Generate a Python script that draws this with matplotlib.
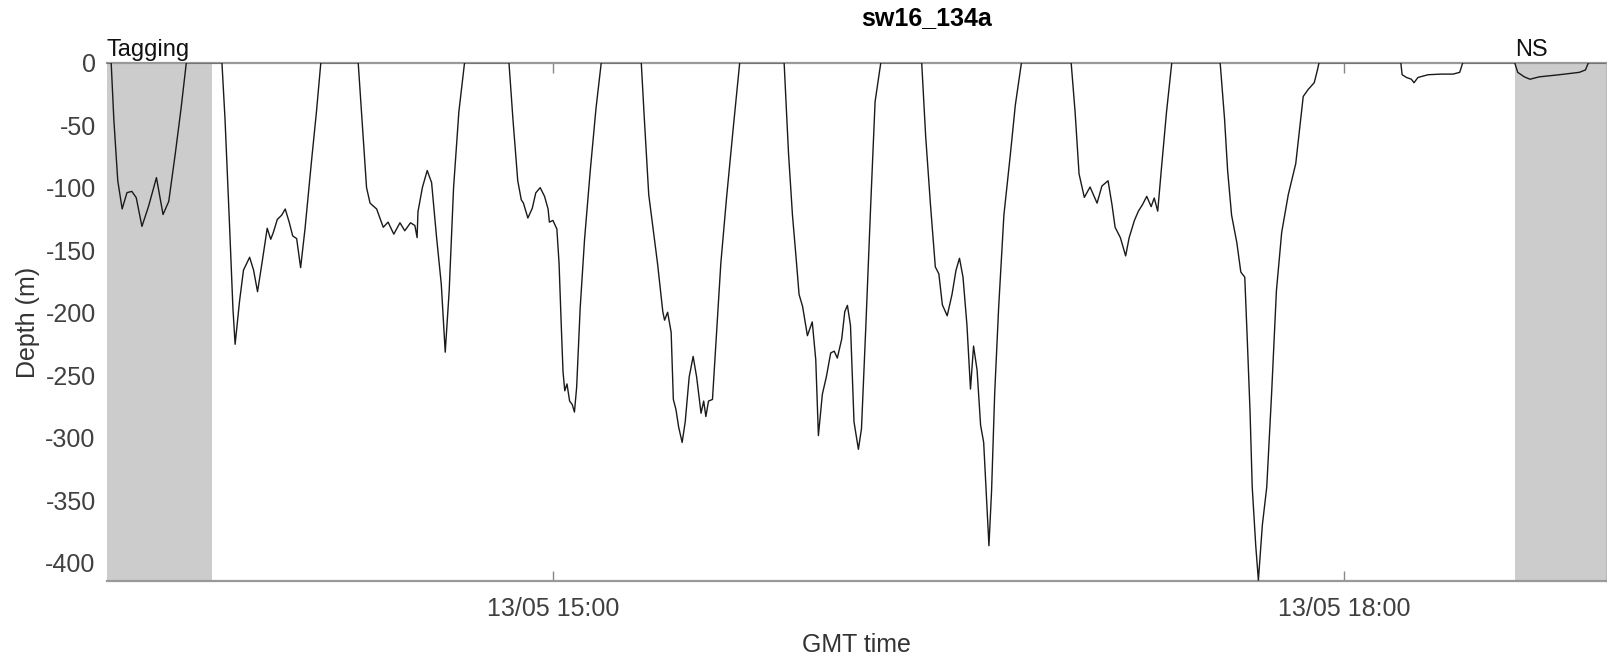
import numpy as np
import pandas as pd
import matplotlib
matplotlib.use("Agg")
import matplotlib.pyplot as plt
import matplotlib.dates as mdates

plt.rcParams["font.family"] = ["Liberation Sans", "DejaVu Sans"]
plt.rcParams["axes.unicode_minus"] = False

# dive profile of sw16_134a: minutes after 13:00 GMT, depth in metres
minutes = [
    18.5, 19.5, 20.1, 21.0, 22.0, 23.1, 24.2, 25.2, 26.5, 28.0, 29.8, 31.3, 32.6, 34.1, 35.4, 36.6,
    44.7, 45.4, 46.4, 47.2, 47.7, 48.7, 49.6, 51.0, 51.9, 52.8, 53.8, 55.0, 55.8, 56.4, 57.3, 58.3,
    59.1, 60.0, 60.8, 61.7, 62.6, 63.6, 65.1, 66.2, 67.2,
    75.7, 77.6, 78.4, 79.9, 81.4, 82.5, 83.8, 85.2, 86.3, 87.6, 88.6, 89.1, 89.3, 90.3, 91.4, 92.4,
    93.5, 94.6, 95.5, 96.4, 97.4, 98.6, 99.9,
    110.0, 110.9, 112.0, 112.8, 113.3, 114.3, 115.3, 116.1, 117.1, 118.1, 118.9, 119.2, 120.0, 120.9,
    121.4, 121.9, 122.3, 122.7, 123.2, 123.8, 124.4, 124.9, 125.4, 126.2, 127.2, 128.5, 129.8, 131.0,
    140.1, 140.8, 141.8, 142.9, 143.8, 145.0, 145.4, 146.1, 146.9, 147.4, 148.0, 148.6, 149.4, 150.1,
    151.0, 151.9, 152.7, 153.7, 154.3, 154.8, 155.4, 156.3, 157.1, 158.2, 159.5, 161.0, 162.5,
    172.6, 173.6, 174.5, 175.3, 176.0, 176.8, 177.9, 179.0, 179.8, 180.4, 181.3, 182.2, 183.2, 184.0,
    184.7, 185.7, 186.4, 187.0, 187.7, 188.5, 189.5, 190.2, 191.2, 192.3, 193.3, 194.6,
    203.9, 204.8, 205.9, 207.0, 207.8, 208.6, 209.7, 210.8, 211.7, 212.5, 213.3, 214.2, 215.0, 215.7,
    216.5, 217.3, 218.0, 218.6, 219.2, 219.8, 220.5, 221.4, 222.6, 224.1, 225.2, 226.6,
    237.9, 238.8, 239.7, 240.9, 242.2, 243.8, 244.9, 246.3, 247.2, 247.9, 249.1, 250.3, 251.1, 252.3,
    253.2, 254.1, 255.1, 256.1, 256.8, 257.6, 258.4, 259.6, 260.8,
    271.8, 272.8, 273.5, 274.4, 275.6, 276.5, 277.4, 278.0, 278.6, 279.1, 279.9, 280.5, 281.4, 282.4,
    283.5, 284.6, 285.8, 287.3, 289.0, 290.7, 291.8, 293.2, 293.9, 294.3,
    312.9, 313.2, 314.2, 315.3, 315.9, 316.8, 319.1, 322.1, 324.8, 326.3, 327.0,
    338.8, 339.5, 341.0, 342.3, 344.4, 349.0, 353.5, 354.9, 355.6, 359.6,
]
depth = [
    0, 0, -45, -94.5, -117, -104, -103, -108, -131, -115, -92, -121.5, -111, -72.5, -36.7, 0,
    0, -45, -127.6, -196.4, -225.3, -191, -166, -155.7, -166, -183.2, -160.6, -132.5, -141.3, -135.8,
    -125.4, -122, -117.1, -127.6, -138.6, -140.8, -164, -133, -78, -39.5, 0,
    0, -100, -112.4, -117.1, -131.7, -127.6, -137.2, -128.1, -134.5, -128.1, -130.3, -140, -119.3,
    -100, -86.3, -96, -138.6, -177.1, -231.6, -182.6, -100, -39.5, 0,
    0, -45, -94.5, -109.7, -112.4, -124.3, -116.6, -104.2, -100, -107, -117.1, -127.6, -126.2, -133.1,
    -160.6, -210.2, -247.3, -262.5, -257, -270.7, -273.5, -279.5, -259.7, -196.4, -141.3, -86.3, -36.7, 0,
    0, -45, -105.6, -135.8, -160.6, -199.2, -206, -199.7, -215.7, -269.4, -277.6, -291.4, -303.8,
    -287.3, -251.5, -235, -251.5, -280.4, -270.7, -283.1, -270.7, -269.4, -224, -160.6, -108.3, -53.2, 0,
    0, -72.5, -122, -155.1, -185.4, -195, -218.4, -207.4, -237.7, -298.3, -265.2, -251.5, -232.2,
    -230.8, -236.3, -221.2, -199.2, -194.2, -210.2, -287.3, -309.3, -292.8, -210.2, -113.8, -31.2, 0,
    0, -58.8, -113.8, -163.4, -168.9, -193.7, -202.5, -185.4, -166.1, -156.5, -171.6, -210.2, -261.1,
    -226.7, -246, -290, -303.8, -345, -386.4, -342.3, -265.2, -196.4, -122, -72.5, -34, 0,
    0, -39.5, -89, -107.8, -99.5, -112.4, -98.7, -94.5, -113.8, -131.7, -140, -154.6, -140, -126.2,
    -118.8, -113.8, -107, -115.2, -108.3, -118.8, -86.3, -39.5, 0,
    0, -45, -86.3, -122, -144.1, -167.5, -171.6, -224, -279, -339.6, -386.4, -414, -369.9, -339.6,
    -265.2, -182.6, -135.8, -105.6, -80.8, -27.1, -21.6, -16.1, -6.4, 0,
    0, -9.7, -11.9, -13.3, -16.1, -11.9, -9.7, -9.2, -9.2, -7.8, 0,
    0, -7.8, -11.4, -13.3, -11.4, -9.7, -7.8, -5.9, 0, 0,
]

# shaded periods (minutes after 13:00)
tagging_span = (18.5, 42.4)
ns_span = (338.8, 359.6)
xlim_min = (18.5, 359.6)

t0 = pd.Timestamp("2016-05-13 13:00")
to_time = lambda m: t0 + pd.to_timedelta(np.asarray(m, dtype=float), unit="min")
times = to_time(minutes)

fig = plt.figure(figsize=(16.08, 6.61), dpi=100)
ax = fig.add_axes([0.0664, 0.1203, 0.9324, 0.785])

ax.axvspan(*to_time(tagging_span), color="#cccccc", lw=0, zorder=1)
ax.axvspan(*to_time(ns_span), color="#cccccc", lw=0, zorder=1)
ax.plot(times, depth, color="#1a1a1a", lw=1.0, zorder=3)

lo, hi = to_time(xlim_min)
ax.set_xlim(lo, hi)
ax.set_ylim(-415, 0)
ax.set_yticks(np.arange(-400, 1, 50))
ax.set_xticks(to_time([120, 300]))
ax.xaxis.set_major_formatter(mdates.DateFormatter("%d/%m %H:%M"))

ax.tick_params(axis="x", direction="in", length=7, width=1, color="#888888",
               top=True, labelsize=18, labelcolor="#404040", pad=11)
ax.tick_params(axis="y", length=0, labelsize=18, labelcolor="#404040", pad=8)

for side in ["top", "bottom"]:
    ax.spines[side].set_color("#999999")
    ax.spines[side].set_linewidth(1.6)
ax.spines["left"].set_visible(False)
ax.spines["right"].set_color("#bbbbbb")
ax.spines["right"].set_linewidth(1.0)

ax.set_xlabel("GMT time", fontsize=18, color="#333333", labelpad=9)
ax.set_ylabel("Depth (m)", fontsize=18, color="#333333", labelpad=4)

ax.text(to_time(tagging_span[0]), 1, "Tagging", fontsize=17, va="bottom", ha="left", color="#111111")
ax.text(to_time(ns_span[0]), 1, "NS", fontsize=17, va="bottom", ha="left", color="#111111")
fig.text(0.5765, 0.972, "sw16_134a", fontsize=18, fontweight="bold", ha="center", va="center")

fig.savefig("out.png", dpi=100)
